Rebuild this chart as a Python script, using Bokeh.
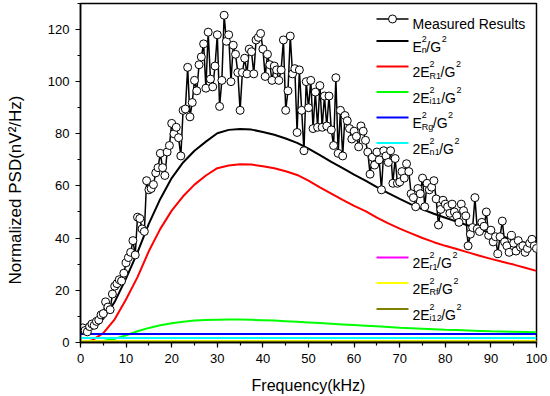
from bokeh.plotting import figure
from bokeh.models import Range1d, SingleIntervalTicker, Label
from bokeh.embed import file_html
from bokeh.resources import INLINE

# ---------------- data ----------------
freq = [
    0.5, 1.0, 1.5, 2.0, 2.5, 3.0, 3.5, 4.0, 4.5, 5.0,
    5.5, 6.0, 6.5, 7.0, 7.5, 8.0, 8.5, 9.0, 9.5, 10.0,
    10.5, 11.0, 11.5, 12.0, 12.5, 13.0, 13.5, 14.0, 14.5, 15.0,
    15.5, 16.0, 16.5, 17.0, 17.5, 18.0, 18.5, 19.0, 19.5, 20.0,
    20.5, 21.0, 21.5, 22.0, 22.5, 23.0, 23.5, 24.0, 24.5, 25.0,
    25.5, 26.0, 26.5, 27.0, 27.5, 28.0, 28.5, 29.0, 29.5, 30.0,
    30.5, 31.0, 31.5, 32.0, 32.5, 33.0, 33.5, 34.0, 34.5, 35.0,
    35.5, 36.0, 36.5, 37.0, 37.5, 38.0, 38.5, 39.0, 39.5, 40.0,
    40.5, 41.0, 41.5, 42.0, 42.5, 43.0, 43.5, 44.0, 44.5, 45.0,
    45.5, 46.0, 46.5, 47.0, 47.5, 48.0, 48.5, 49.0, 49.5, 50.0,
    50.5, 51.0, 51.5, 52.0, 52.5, 53.0, 53.5, 54.0, 54.5, 55.0,
    55.5, 56.0, 56.5, 57.0, 57.5, 58.0, 58.5, 59.0, 59.5, 60.0,
    60.5, 61.0, 61.5, 62.0, 62.5, 63.0, 63.5, 64.0, 64.5, 65.0,
    65.5, 66.0, 66.5, 67.0, 67.5, 68.0, 68.5, 69.0, 69.5, 70.0,
    70.5, 71.0, 71.5, 72.0, 72.5, 73.0, 73.5, 74.0, 74.5, 75.0,
    75.5, 76.0, 76.5, 77.0, 77.5, 78.0, 78.5, 79.0, 79.5, 80.0,
    80.5, 81.0, 81.5, 82.0, 82.5, 83.0, 83.5, 84.0, 84.5, 85.0,
    85.5, 86.0, 86.5, 87.0, 87.5, 88.0, 88.5, 89.0, 89.5, 90.0,
    90.5, 91.0, 91.5, 92.0, 92.5, 93.0, 93.5, 94.0, 94.5, 95.0,
    95.5, 96.0, 96.5, 97.0, 97.5, 98.0, 98.5, 99.0, 99.5, 100.0,
]
measured = [
    5.5, 4.5, 4.0, 6.0, 7.0, 6.5, 8.0, 8.5, 10.5, 11.0,
    15.5, 13.5, 12.5, 18.5, 21.5, 22.5, 24.0, 23.5, 26.5, 30.5,
    32.5, 34.5, 39.0, 33.5, 48.0, 47.5, 43.5, 42.5, 62.0, 58.5,
    59.0, 60.5, 65.0, 67.0, 72.5, 67.0, 64.0, 73.0, 75.5, 84.0,
    80.0, 82.5, 78.5, 71.5, 89.0, 89.5, 105.5, 86.5, 92.0, 100.5,
    96.5, 106.5, 109.5, 114.5, 97.5, 119.0, 101.0, 98.0, 106.0, 118.0,
    90.5, 100.5, 125.5, 115.5, 118.0, 100.0, 114.0, 110.5, 103.5, 89.0,
    103.5, 109.0, 103.0, 112.5, 111.5, 103.0, 116.0, 117.0, 118.5, 112.5,
    102.0, 110.5, 106.5, 100.5, 106.0, 104.5, 100.5, 104.5, 116.0, 89.0,
    96.5, 117.5, 103.0, 105.0, 80.5, 104.5, 89.0, 73.5, 100.0, 90.0,
    100.5, 82.0, 96.0, 82.5, 98.5, 82.5, 94.5, 83.0, 94.5, 81.5,
    75.5, 101.5, 72.5, 89.0, 71.5, 87.0, 85.0, 82.0, 78.0, 81.0,
    79.0, 75.0, 83.0, 81.0, 77.5, 73.0, 64.5, 71.0, 68.0, 73.0,
    70.0, 58.5, 73.5, 71.5, 69.0, 73.5, 61.0, 70.5, 61.0, 61.5,
    65.5, 63.0, 68.5, 65.5, 57.0, 55.5, 52.0, 59.0, 57.0, 63.0,
    52.0, 61.0, 58.5, 59.5, 62.0, 55.0, 45.0, 51.0, 54.5, 53.0,
    52.0, 49.5, 53.0, 50.0, 48.5, 46.0, 53.0, 50.5, 48.5, 37.0,
    41.5, 44.0, 55.5, 43.5, 42.5, 46.0, 44.5, 50.0, 41.0, 43.0,
    38.5, 40.5, 34.0, 40.5, 46.5, 38.5, 37.0, 34.5, 41.0, 38.0,
    35.0, 39.0, 36.5, 37.0, 34.5, 36.0, 38.0, 39.5, 37.0, 36.0,
]

model_freq = [
    0, 2.5, 5, 7.5, 10, 12.5, 15, 17.5, 20, 22.5,
    25, 27.5, 30, 32.5, 35, 37.5, 40, 42.5, 45, 47.5,
    50, 52.5, 55, 57.5, 60, 62.5, 65, 67.5, 70, 72.5,
    75, 77.5, 80, 82.5, 85, 87.5, 90, 92.5, 95, 97.5, 100,
]
en_total = [
    4.0, 5.8, 9.0, 15.5, 24.5, 34.5, 45.5, 55.0, 63.0, 69.0,
    73.5, 77.0, 80.2, 81.5, 81.8, 81.6, 80.7, 79.6, 78.2, 76.5,
    74.3, 71.8, 69.2, 66.8, 64.3, 62.0, 59.5, 57.2, 55.0, 52.9,
    51.0, 49.3, 47.8, 46.3, 44.8, 43.3, 41.9, 40.6, 39.4, 38.2, 37.0,
]
er_r1 = [
    0.0, 0.7, 3.5, 8.8, 16.5, 25.0, 35.0, 43.5, 50.5, 56.0,
    60.5, 64.0, 66.8, 67.8, 68.3, 68.2, 67.5, 66.8, 65.6, 64.2,
    62.0, 59.4, 57.0, 54.6, 52.3, 50.3, 47.8, 45.6, 43.6, 41.8,
    40.0, 38.4, 37.0, 35.8, 34.5, 33.2, 32.0, 30.9, 29.8, 28.6, 27.4,
]
ei_i11 = [
    0.0, 0.05, 0.5, 1.3, 2.7, 4.2, 5.5, 6.5, 7.3, 7.9,
    8.3, 8.5, 8.65, 8.7, 8.7, 8.6, 8.45, 8.3, 8.1, 7.85,
    7.6, 7.35, 7.1, 6.85, 6.6, 6.35, 6.1, 5.85, 5.6, 5.4,
    5.2, 5.0, 4.8, 4.65, 4.5, 4.35, 4.2, 4.1, 4.0, 3.9, 3.8,
]
const_freq = [0, 100]
er_rg = [3.2, 3.2]
en_n1 = [1.6, 1.6]
ei_r1 = [0.5, 0.5]
er_rf = [0.5, 0.5]
ei_i12 = [0.15, 0.15]

FONT = "Liberation Sans"

p = figure(width=550, height=396,
           x_range=Range1d(0, 100), y_range=Range1d(-0.1, 130.0),
           output_backend="svg", toolbar_location=None,
           min_border_left=80, min_border_right=14,
           min_border_top=3, min_border_bottom=54)
p.background_fill_color = "white"
p.border_fill_color = "white"
p.outline_line_color = "black"
p.outline_line_width = 1.5
p.grid.visible = False

p.xaxis.ticker = SingleIntervalTicker(interval=10, num_minor_ticks=2)
p.yaxis.ticker = SingleIntervalTicker(interval=20, num_minor_ticks=2)
for ax in (p.xaxis[0], p.yaxis[0]):
    ax.axis_line_width = 1.5
    ax.axis_line_color = "black"
    ax.major_tick_in = 0
    ax.major_tick_out = 5
    ax.minor_tick_in = 0
    ax.minor_tick_out = 3
    ax.major_tick_line_color = "black"
    ax.minor_tick_line_color = "black"
    ax.major_tick_line_width = 1.2
    ax.minor_tick_line_width = 1.2
    ax.major_label_text_font = FONT
    ax.major_label_text_font_size = "13px"
    ax.major_label_text_color = "black"
    ax.axis_label_text_font = FONT
    ax.axis_label_text_font_style = "normal"
    ax.axis_label_text_color = "black"
p.xaxis.major_label_standoff = 6
p.yaxis.major_label_standoff = 6

p.xaxis.axis_label = "Frequency(kHz)"
p.xaxis.axis_label_text_font_size = "16px"
p.xaxis.axis_label_standoff = 11

# y title: trailing em spaces move the centred text a little below the frame
# centre, where the reference puts it
p.yaxis.axis_label = "Normalized PSD(nV\u00b2/Hz)\u2003\u2003"
p.yaxis.axis_label_text_font_size = "17px"
p.yaxis.axis_label_standoff = 20

# model curves
p.line(model_freq, en_total, line_color="black", line_width=2)
p.line(model_freq, er_r1, line_color="#ff0000", line_width=2)
p.line(model_freq, ei_i11, line_color="#00ff00", line_width=2)
p.line(const_freq, er_rg, line_color="#0000ff", line_width=2)
p.line(const_freq, en_n1, line_color="#00ffff", line_width=2)
p.line(const_freq, ei_r1, line_color="#ff00ff", line_width=2)
p.line(const_freq, er_rf, line_color="#ffff00", line_width=2)
p.line(const_freq, ei_i12, line_color="#808000", line_width=2)

# measured
p.line(freq, measured, line_color="black", line_width=1.5)
p.scatter(freq, measured, marker="circle", size=8, fill_color="white",
          line_color="black", line_width=1)

# ------------- page-pixel helpers for the hand-drawn legend -------------
def fx(px):
    return (px - 80.0) / 4.56

def fy(py):
    return (341.74 - py) / (339.0 / 130.1)

W = {"2": 0.556, "E": 0.667, "/": 0.278, "G": 0.778, "n": 0.556, "R": 0.722,
     "1": 0.556, "i": 0.222, "g": 0.556, "r": 0.333, "f": 0.278}

def tw(s, size):
    return sum(W[c] for c in s) * size

rows = [
    ("E", "n", "black"),
    ("2E", "R1", "#ff0000"),
    ("2E", "i11", "#00ff00"),
    ("E", "Rg", "#0000ff"),
    ("2E", "n1", "#00ffff"),
    ("2E", "r1", "#ff00ff"),
    ("2E", "Rf", "#ffff00"),
    ("2E", "i12", "#808000"),
]
row_y = [40.5, 66.0, 91.5, 117.0, 142.5, 257.0, 282.5, 308.5]
MAIN = 14.0
SMALL = 9.0
x0 = 412.0

my = 18.5
p.line([fx(376), fx(408)], [fy(my), fy(my)], line_color="black", line_width=1.5)
p.scatter([fx(392)], [fy(my)], marker="circle", size=8, fill_color="white",
          line_color="black", line_width=1)
p.add_layout(Label(x=fx(x0), y=fy(my + 5.5), text="Measured Results",
                   text_font=FONT, text_font_size="14px", text_color="black",
                   text_baseline="alphabetic", text_align="left"))

for (base, sub, col), ly in zip(rows, row_y):
    p.line([fx(376), fx(408)], [fy(ly), fy(ly)], line_color=col, line_width=2)
    bl = ly + 6.0
    xb = x0
    p.add_layout(Label(x=fx(xb), y=fy(bl), text=base, text_font=FONT,
                       text_font_size=f"{MAIN}px", text_color="black",
                       text_baseline="alphabetic", text_align="left"))
    xs = xb + tw(base, MAIN)
    p.add_layout(Label(x=fx(xs), y=fy(bl - 8.0), text="2", text_font=FONT,
                       text_font_size=f"{SMALL}px", text_color="black",
                       text_baseline="alphabetic", text_align="left"))
    p.add_layout(Label(x=fx(xs), y=fy(bl + 3.5), text=sub, text_font=FONT,
                       text_font_size=f"{SMALL}px", text_color="black",
                       text_baseline="alphabetic", text_align="left"))
    xt = xs + max(tw(sub, SMALL), tw("2", SMALL)) - 0.5
    p.add_layout(Label(x=fx(xt), y=fy(bl), text="/G", text_font=FONT,
                       text_font_size=f"{MAIN}px", text_color="black",
                       text_baseline="alphabetic", text_align="left"))
    xs2 = xt + tw("/G", MAIN) + 0.5
    p.add_layout(Label(x=fx(xs2), y=fy(bl - 8.0), text="2", text_font=FONT,
                       text_font_size=f"{SMALL}px", text_color="black",
                       text_baseline="alphabetic", text_align="left"))

open("out.html", "w").write(file_html(p, INLINE))
